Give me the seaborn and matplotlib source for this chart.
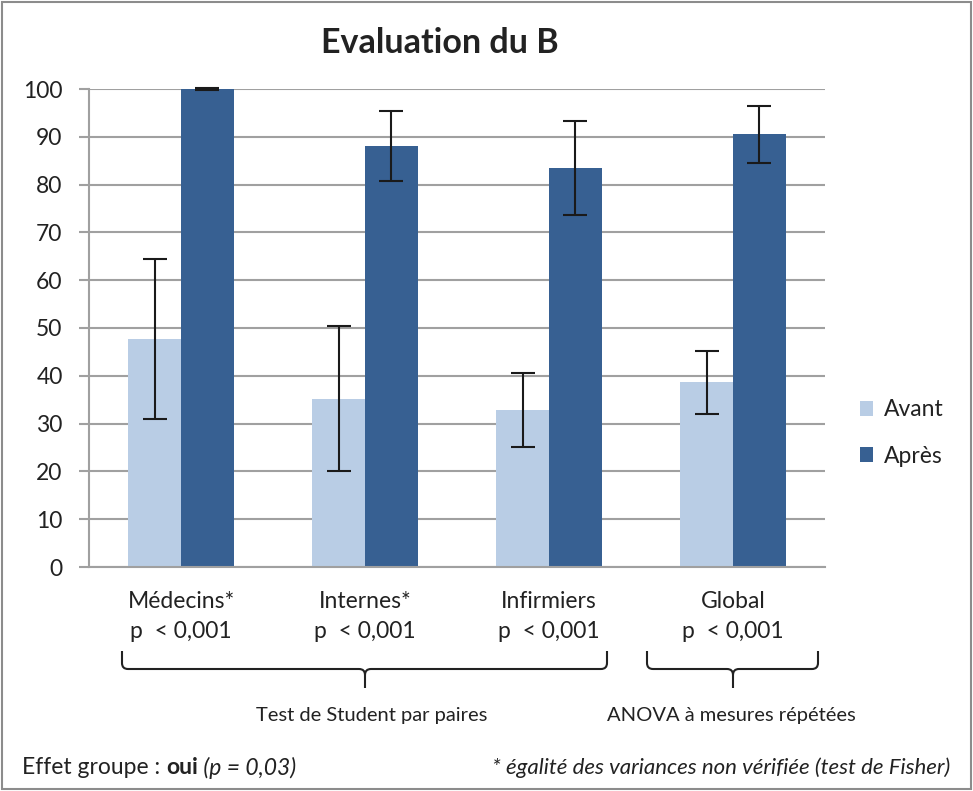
import numpy as np
import pandas as pd
import matplotlib
matplotlib.use('Agg')
import matplotlib.pyplot as plt
import seaborn as sns
from matplotlib.path import Path
from matplotlib.patches import PathPatch, Rectangle

# data
groupes = ['Médecins*', 'Internes*', 'Infirmiers', 'Global']
p_values = ['p  < 0,001', 'p  < 0,001', 'p  < 0,001', 'p  < 0,001']
avant = [47.7, 35.2, 32.8, 38.6]
apres = [100.0, 88.1, 83.5, 90.5]
err_avant = [16.8, 15.2, 7.7, 6.6]
err_apres = [0.2, 7.4, 9.8, 6.0]
temps = ['Avant', 'Après']

df = pd.DataFrame({
    'Groupe': groupes * 2,
    'Score': avant + apres,
    'Temps': ['Avant'] * 4 + ['Après'] * 4,
})

sns.set_style('white')
plt.rcParams['font.family'] = ['Lato', 'DejaVu Sans']

W, H = 973, 791
fig = plt.figure(figsize=(W / 100, H / 100), dpi=100)
ax = fig.add_axes([89 / W, 1 - 567 / H, (825 - 89) / W, (567 - 89) / H])

sns.barplot(data=df, x='Groupe', y='Score', hue='Temps', hue_order=temps,
            palette=['#B9CDE5', '#376092'], width=0.576, errorbar=None,
            saturation=1, linewidth=0, ax=ax)

# error bars on each bar
for cont, errs in zip(ax.containers, [err_avant, err_apres]):
    for bar, e in zip(cont, errs):
        xc = bar.get_x() + bar.get_width() / 2
        ax.errorbar(xc, bar.get_height(), yerr=e, color='#1a1a1a', lw=1.5,
                    capsize=8.5, capthick=1.5, clip_on=False, zorder=5)

ax.set_ylim(0, 100)
ax.set_xlim(-0.5, 3.5)
ax.set_yticks(np.arange(0, 101, 10))
ax.yaxis.grid(True, color='#A0A0A0', lw=1.5)
ax.set_axisbelow(True)
for s in ['top', 'right']:
    ax.spines[s].set_visible(False)
for s in ['left', 'bottom']:
    ax.spines[s].set_color('#A0A0A0')
    ax.spines[s].set_linewidth(1.5)

ax.set_xticks(range(4))
ax.set_xticklabels([g + '\n' + p for g, p in zip(groupes, p_values)],
                   fontsize=16.5, linespacing=1.55, color='#222222')
ax.set_xticks([-0.5, 0.5, 1.5, 2.5, 3.5], minor=True)
ax.tick_params(axis='x', which='major', length=0, pad=17)
ax.tick_params(axis='x', which='minor', length=7, width=1.5, color='#A0A0A0', direction='out')
ax.tick_params(axis='y', length=7, width=1.5, color='#A0A0A0', direction='out',
               labelsize=16.5, labelcolor='#222222', pad=12, left=True)
ax.set_xlabel('')
ax.set_ylabel('')

sns.move_legend(ax, loc='center left', bbox_to_anchor=(839 / W, 1 - 433 / H),
                bbox_transform=fig.transFigure, frameon=False, title=None,
                fontsize=16.5, labelspacing=1.1, handlelength=0.6, handleheight=0.6,
                handletextpad=0.45)
for t in ax.get_legend().get_texts():
    t.set_color('#222222')

fig.text(440 / W, 1 - 43 / H, 'Evaluation du B', ha='center', va='center',
         fontsize=24.5, fontweight='bold', color='#222222')


def brace(x0, x1, xm, ytop, yh, ytip, r=6):
    pts = [
        (x0, ytop), (x0, yh - r), (x0, yh), (x0 + r, yh), (xm - r, yh), (xm, yh), (xm, yh + r), (xm, ytip),
        (x1, ytop), (x1, yh - r), (x1, yh), (x1 - r, yh), (xm + r, yh), (xm, yh), (xm, yh + r),
    ]
    codes = [Path.MOVETO, Path.LINETO, Path.CURVE3, Path.CURVE3, Path.LINETO, Path.CURVE3, Path.CURVE3, Path.LINETO,
             Path.MOVETO, Path.LINETO, Path.CURVE3, Path.CURVE3, Path.LINETO, Path.CURVE3, Path.CURVE3]
    pts = [(x / W, 1 - y / H) for x, y in pts]
    fig.patches.append(PathPatch(Path(pts, codes), fill=False, lw=1.5, ec='#222222',
                                 transform=fig.transFigure))


brace(122, 607, 365, 651, 669, 688)
brace(647, 818, 733, 651, 669, 688)

fig.text(372 / W, 1 - 716 / H, 'Test de Student par paires', ha='center', va='center',
         fontsize=14.5, color='#222222')
fig.text(731 / W, 1 - 716 / H, 'ANOVA à mesures répétées', ha='center', va='center',
         fontsize=14.5, color='#222222')
fig.text(950 / W, 1 - 768 / H, '* égalité des variances non vérifiée (test de Fisher)',
         ha='right', va='center', fontsize=16, style='italic', color='#222222')

# "Effet groupe : oui (p = 0,03)" with mixed styles
renderer = fig.canvas.get_renderer()
x = 22 / W
for txt, kw in [('Effet groupe : ', {}), ('oui', {'fontweight': 'bold'}),
                (' (p = 0,03)', {'style': 'italic'})]:
    t = fig.text(x, 1 - 768 / H, txt, ha='left', va='center', fontsize=16.5,
                 color='#222222', **kw)
    bb = t.get_window_extent(renderer=renderer)
    x += bb.width / W

fig.patches.append(Rectangle((2 / W, 2 / H), 1 - 4 / W, 1 - 4 / H, fill=False,
                             ec='#8C8C8C', lw=1.5, transform=fig.transFigure))

fig.savefig('out.png', dpi=100)
